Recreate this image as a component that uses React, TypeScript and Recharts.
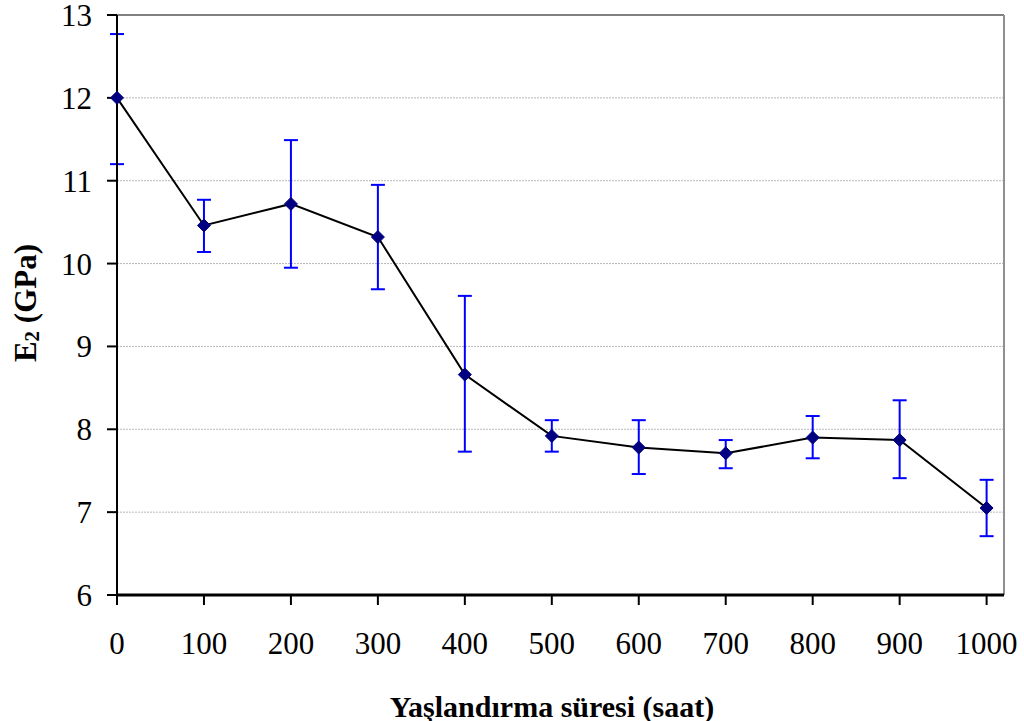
import React from "react";
import { LineChart, Line, XAxis, YAxis, CartesianGrid, ErrorBar, ReferenceLine, Label } from "recharts";

const hours = [0, 100, 200, 300, 400, 500, 600, 700, 800, 900, 1000];
const modulus = [12.0, 10.46, 10.72, 10.32, 8.66, 7.92, 7.78, 7.71, 7.9, 7.87, 7.05];
const lowerBound = [11.2, 10.14, 9.95, 9.69, 7.73, 7.73, 7.46, 7.53, 7.65, 7.41, 6.71];
const upperBound = [12.77, 10.77, 11.49, 10.95, 9.61, 8.11, 8.11, 7.87, 8.16, 8.35, 7.39];
const xTicks = [0, 100, 200, 300, 400, 500, 600, 700, 800, 900, 1000];
const yTicks = [6, 7, 8, 9, 10, 11, 12, 13];

const data = hours.map((h, i) => ({
  hours: h,
  e2: modulus[i],
  err: [+(modulus[i] - lowerBound[i]).toFixed(3), +(upperBound[i] - modulus[i]).toFixed(3)],
}));

const FONT = "'Liberation Serif', 'Times New Roman', serif";

const Diamond = (props: any) => {
  const { cx, cy } = props;
  if (cx == null || cy == null) return null;
  const r = 6.5;
  return (
    <polygon
      points={`${cx},${cy - r} ${cx + r},${cy} ${cx},${cy + r} ${cx - r},${cy}`}
      fill="#000080"
      stroke="#000080"
    />
  );
};

const YTitle = () => (
  <text
    x={25}
    y={303}
    transform="rotate(-90, 25, 303)"
    textAnchor="middle"
    dominantBaseline="central"
    fontFamily={FONT}
    fontWeight="bold"
    fontSize={31}
    fill="#000"
  >
    E<tspan fontSize={21} dy={7}>2</tspan>
    <tspan dy={-7}> (GPa)</tspan>
  </text>
);

const XTitle = () => (
  <text
    x={552}
    y={706}
    textAnchor="middle"
    dominantBaseline="central"
    fontFamily={FONT}
    fontWeight="bold"
    fontSize={30}
    fill="#000"
  >
    Yaşlandırma süresi (saat)
  </text>
);

export default function App() {
  return (
    <div style={{ position: "absolute", left: 0, top: 0, width: 1024, height: 721, background: "#fff" }}>
      <LineChart width={1024} height={721} data={data} margin={{ top: 15, right: 20, bottom: 0, left: 0 }}>
        <CartesianGrid horizontal={true} vertical={false} stroke="#b8b8b8" strokeDasharray="2 1" />
        <XAxis
          dataKey="hours"
          type="number"
          domain={[0, 1020]}
          ticks={xTicks}
          height={126}
          axisLine={{ stroke: "#000", strokeWidth: 3 }}
          tickLine={{ stroke: "#000", strokeWidth: 2 }}
          tickSize={10}
          tickMargin={27}
          tick={{ fill: "#000", fontSize: 31, fontFamily: FONT }}
          interval={0}
        >
          <Label content={<XTitle />} />
        </XAxis>
        <YAxis
          type="number"
          domain={[6, 13]}
          ticks={yTicks}
          width={117}
          axisLine={{ stroke: "#000", strokeWidth: 2 }}
          tickLine={{ stroke: "#000", strokeWidth: 2 }}
          tickSize={10}
          tickMargin={15}
          tick={{ fill: "#000", fontSize: 31, fontFamily: FONT }}
          interval={0}
        >
          <Label content={<YTitle />} />
        </YAxis>
        <ReferenceLine y={13} stroke="#808080" strokeWidth={2} />
        <ReferenceLine x={1020} stroke="#909090" strokeWidth={2} />
        <Line
          dataKey="e2"
          stroke="#000"
          strokeWidth={2}
          dot={<Diamond />}
          activeDot={false}
          isAnimationActive={false}
        >
          <ErrorBar dataKey="err" direction="y" width={7} stroke="#0000FF" strokeWidth={2} isAnimationActive={false} />
        </Line>
      </LineChart>
    </div>
  );
}
